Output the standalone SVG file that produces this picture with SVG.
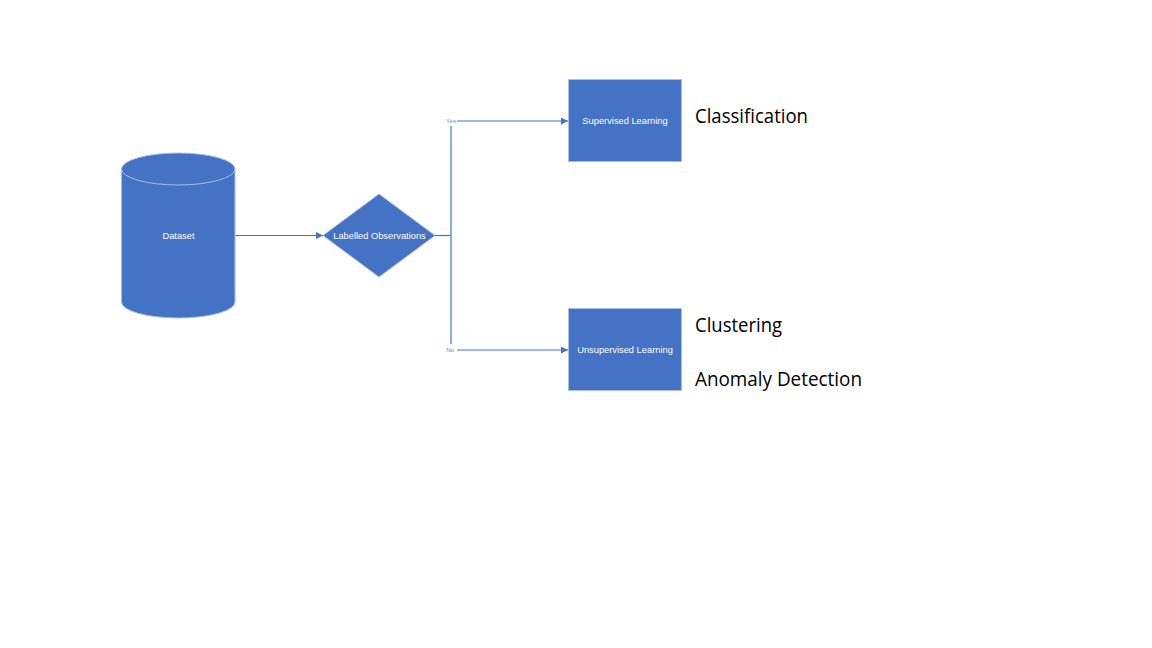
<svg xmlns="http://www.w3.org/2000/svg" width="1152" height="648" viewBox="0 0 1152 648">
<style>
.shape{fill:#4472C4;stroke:#A9BDE3;stroke-width:1}
.lbl{fill:#ffffff;font-family:"Liberation Sans",Arial,sans-serif;font-size:9.3px;text-anchor:middle}
.tiny{fill:#6F86B8;font-family:"Liberation Sans",Arial,sans-serif;font-size:6px;text-anchor:middle}
.side{fill:#000000;font-family:"Open Sans","Liberation Sans",Arial,sans-serif;font-size:20px}
.conn{stroke:#4472C4;stroke-width:1.2;fill:none}
</style>
<defs>
<marker id="arr" viewBox="0 0 10 10" refX="10" refY="5" markerWidth="7" markerHeight="7" markerUnits="userSpaceOnUse" orient="auto">
<path d="M0,0 L10,5 L0,10 z" fill="#4472C4"/>
</marker>
</defs>
<rect width="1152" height="648" fill="#ffffff"/>
<g id="connectors">
<line class="conn" x1="235" y1="235.5" x2="323" y2="235.5" marker-end="url(#arr)"/>
<line class="conn" x1="435" y1="235.5" x2="451" y2="235.5"/>
<line class="conn" x1="451" y1="126" x2="451" y2="344"/>
<line class="conn" x1="457" y1="121" x2="568" y2="121" marker-end="url(#arr)"/>
<line class="conn" x1="457" y1="350" x2="568" y2="350" marker-end="url(#arr)"/>
<text class="tiny" x="451" y="122.5">Yes</text>
<text class="tiny" x="450" y="352">No</text>
</g>
<g id="dataset">
<path class="shape" d="M121.5,169 A56.75,16 0 0 1 235,169 L235,302 A56.75,16 0 0 1 121.5,302 Z"/>
<path d="M121.5,169 A56.75,16 0 0 0 235,169" fill="none" stroke="#A9BDE3" stroke-width="1"/>
<text class="lbl" x="178.5" y="238.5">Dataset</text>
</g>
<g id="decision">
<polygon class="shape" points="379,194 435,235.5 379,277 323,235.5"/>
<text class="lbl" x="379.5" y="238.5">Labelled Observations</text>
</g>
<g id="supervised">
<rect class="shape" x="568.5" y="79.5" width="113" height="82"/>
<text class="lbl" x="625" y="124">Supervised Learning</text>
</g>
<g id="unsupervised">
<rect class="shape" x="568.5" y="308.5" width="113" height="82"/>
<text class="lbl" x="625" y="353">Unsupervised Learning</text>
</g>
<g id="classification"><text class="side" x="695" y="123" textLength="113" lengthAdjust="spacingAndGlyphs">Classification</text></g>
<g id="clustering"><text class="side" x="695" y="332" textLength="87" lengthAdjust="spacingAndGlyphs">Clustering</text></g>
<g id="anomaly"><text class="side" x="695" y="386" textLength="167" lengthAdjust="spacingAndGlyphs">Anomaly Detection</text></g>
</svg>
